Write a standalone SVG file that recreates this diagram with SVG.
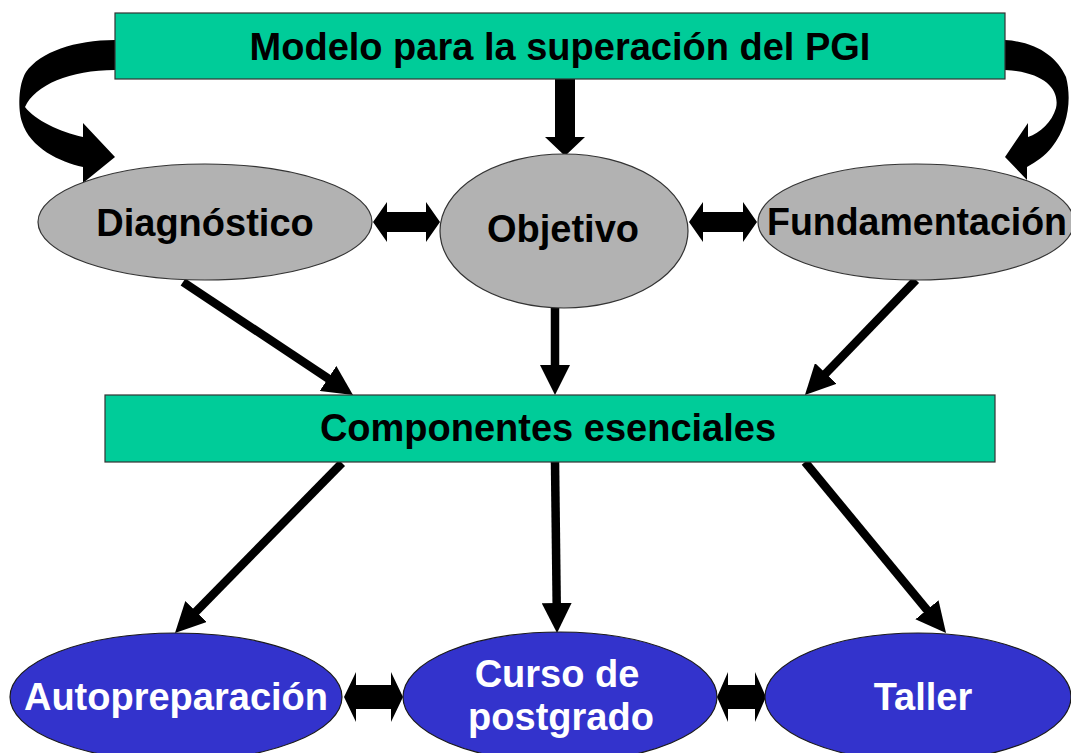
<svg xmlns="http://www.w3.org/2000/svg" width="1071" height="753" viewBox="0 0 1071 753">
  <style>
    .rect { fill: #00CC99; stroke: #333333; stroke-width: 1.2; }
    .gray { fill: #B2B2B2; stroke: #333333; stroke-width: 1.2; }
    .blue { fill: #3333CC; stroke: #1a1a1a; stroke-width: 1.2; }
    .t { font-family: "Liberation Sans", Arial, sans-serif; font-weight: bold; font-size: 38px; text-anchor: middle; fill: #000000; }
    .tw { fill: #FFFFFF; }
    .line { fill: none; stroke: #000000; stroke-width: 8.5; }
    .solid { fill: #000000; stroke: none; }
  </style>
  <defs>
    <marker id="ah" markerUnits="userSpaceOnUse" viewBox="0 0 30 30" markerWidth="30" markerHeight="30" refX="18" refY="15" orient="auto">
      <path d="M0,0 L30,15 L0,30 Z" fill="#000000"/>
    </marker>
  </defs>
  <rect width="1071" height="753" fill="#FFFFFF"/>

  <g id="connectors">
    <path class="solid" d="M115,40 C75,40 40,52 26,72 C18,85 18,110 22,122 C30,148 60,162 83,167 L83,183 L115,157 L83,123 L83,137 C60,132 35,120 25,107 C35,85 70,70 115,70 Z"/>
    <path class="solid" d="M1005,40 C1037,42 1057,57 1066,77 C1072,100 1068,127 1052,147 C1045,156 1036,162 1027,167 L1027,180 L1005,157 L1028,123 L1028,137 C1040,133 1052,122 1056,108 C1060,90 1045,72 1005,70 Z"/>
    <path class="solid" d="M555,79 L575,79 L575,137 L585,137 L565,156 L545,137 L555,137 Z"/>
    <path class="solid" d="M373,222 L387,202 L387,212 L426,212 L426,202 L440,222 L426,242 L426,232 L387,232 L387,242 Z"/>
    <path class="solid" d="M689,222 L703,202 L703,212 L743,212 L743,202 L757,222 L743,242 L743,232 L703,232 L703,242 Z"/>
    <path class="solid" d="M344,697 L356,672 L356,685 L391,685 L391,672 L403,697 L391,722 L391,709 L356,709 L356,722 Z"/>
    <path class="solid" d="M717,697 L728,672 L728,685 L755,685 L755,672 L766,697 L755,722 L755,709 L728,709 L728,722 Z"/>
    <line class="line" x1="183" y1="282" x2="343" y2="388.4" marker-end="url(#ah)"/>
    <line class="line" x1="555" y1="308" x2="555" y2="383" marker-end="url(#ah)"/>
    <line class="line" x1="916" y1="280" x2="813.3" y2="386.4" marker-end="url(#ah)"/>
    <line class="line" x1="342" y1="463" x2="183.4" y2="624.4" marker-end="url(#ah)"/>
    <line class="line" x1="555" y1="462" x2="556.9" y2="621" marker-end="url(#ah)"/>
    <line class="line" x1="805" y1="462" x2="938.4" y2="623.7" marker-end="url(#ah)"/>
  </g>

  <g id="modelo">
    <rect class="rect" x="115" y="13" width="890" height="66"/>
    <text class="t" x="560" y="60">Modelo para la superación del PGI</text>
  </g>
  <g id="diagnostico">
    <ellipse class="gray" cx="205" cy="222" rx="167" ry="58"/>
    <text class="t" x="205" y="236">Diagnóstico</text>
  </g>
  <g id="objetivo">
    <ellipse class="gray" cx="564" cy="231" rx="124" ry="77"/>
    <text class="t" x="563" y="242">Objetivo</text>
  </g>
  <g id="fundamentacion">
    <ellipse class="gray" cx="916" cy="222" rx="158" ry="58"/>
    <text class="t" x="917" y="235" textLength="300" lengthAdjust="spacingAndGlyphs">Fundamentación</text>
  </g>
  <g id="componentes">
    <rect class="rect" x="105" y="395" width="890" height="67"/>
    <text class="t" x="548" y="441">Componentes esenciales</text>
  </g>
  <g id="autopreparacion">
    <ellipse class="blue" cx="176" cy="697" rx="166" ry="64"/>
    <text class="t tw" x="176" y="710">Autopreparación</text>
  </g>
  <g id="curso">
    <ellipse class="blue" cx="560" cy="697" rx="157" ry="65"/>
    <text class="t tw" x="557" y="687">Curso de</text>
    <text class="t tw" x="561" y="730">postgrado</text>
  </g>
  <g id="taller">
    <ellipse class="blue" cx="918" cy="697" rx="153" ry="64"/>
    <text class="t tw" x="923" y="710">Taller</text>
  </g>
</svg>
